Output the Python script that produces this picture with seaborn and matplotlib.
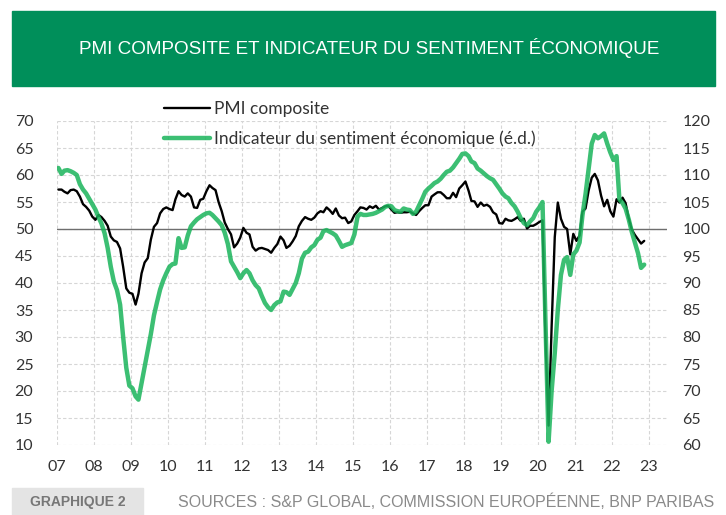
import pandas as pd
import numpy as np
import matplotlib
matplotlib.use("Agg")
import matplotlib.pyplot as plt
from matplotlib.patches import Rectangle
import seaborn as sns

# monthly data, Jan 2007 -> Nov 2022
first_month = "2007-01"

pmi_composite = [
    57.3, 57.3, 56.9, 56.6, 57.2, 57.3, 57.0, 56.0, 54.6, 54.1, 53.4, 52.3,  # 2007
    51.7, 52.6, 52.2, 51.5, 50.6, 48.6, 47.9, 47.6, 46.4, 43.0, 39.0, 38.2,  # 2008
    38.0, 36.0, 38.0, 41.8, 43.8, 44.6, 48.0, 50.4, 51.1, 52.9, 53.7, 54.0,  # 2009
    53.7, 53.5, 55.5, 57.0, 56.3, 56.0, 56.6, 56.0, 54.0, 53.9, 55.4, 55.6,  # 2010
    57.0, 58.1, 57.6, 57.2, 55.0, 53.3, 51.2, 50.0, 49.0, 46.6, 47.3, 48.4,  # 2011
    50.2, 49.3, 49.0, 46.7, 46.0, 46.4, 46.5, 46.3, 46.1, 45.6, 46.5, 47.2,  # 2012
    48.6, 47.9, 46.5, 46.9, 47.7, 48.7, 50.5, 51.5, 52.2, 51.9, 51.7, 52.1,  # 2013
    52.9, 53.3, 53.1, 54.0, 53.5, 52.8, 53.8, 52.5, 52.0, 52.1, 51.1, 51.4,  # 2014
    52.6, 53.3, 54.0, 53.9, 53.6, 54.2, 53.9, 54.3, 53.6, 53.9, 54.2, 54.3,  # 2015
    53.6, 53.0, 53.1, 53.0, 53.1, 53.1, 53.2, 52.9, 52.6, 53.3, 53.9, 54.4,  # 2016
    54.4, 56.0, 56.4, 56.8, 56.8, 56.3, 55.7, 55.7, 56.7, 55.9, 57.5, 58.1,  # 2017
    58.8, 57.1, 55.2, 55.1, 54.1, 54.9, 54.3, 54.5, 54.1, 53.1, 52.7, 51.1,  # 2018
    51.0, 51.9, 51.6, 51.5, 51.8, 52.2, 51.5, 51.9, 50.1, 50.6, 50.6, 50.9,  # 2019
    51.3, 51.6, 29.7, 13.6, 31.9, 48.5, 54.9, 51.9, 50.4, 50.0, 45.3, 49.1,  # 2020
    47.8, 48.8, 53.2, 53.8, 57.1, 59.5, 60.2, 59.0, 56.2, 54.2, 55.4, 53.3,  # 2021
    52.3, 55.5, 54.9, 55.8, 54.8, 52.0, 49.9, 48.9, 48.1, 47.3, 47.8,        # 2022
]

sentiment = [
    111.3, 110.2, 110.8, 110.9, 110.7, 110.4, 110.0, 108.3, 107.3, 106.6, 105.6, 104.6,  # 2007
    103.6, 102.2, 101.0, 99.2, 96.5, 93.0, 90.3, 88.7, 86.0, 80.0, 74.3, 71.0,  # 2008
    70.5, 69.0, 68.4, 71.5, 74.5, 77.5, 80.5, 84.0, 86.5, 88.8, 90.5, 91.8,  # 2009
    93.0, 93.5, 93.6, 98.3, 96.5, 96.6, 98.8, 100.5, 101.2, 101.8, 102.2, 102.6,  # 2010
    102.9, 103.0, 102.6, 102.0, 101.4, 100.7, 99.3, 97.2, 94.0, 93.0, 92.0, 90.9,  # 2011
    91.8, 92.4, 91.8, 90.5, 89.6, 89.0, 87.6, 86.3, 85.5, 85.0, 85.9, 86.4,  # 2012
    86.6, 88.4, 88.3, 87.8, 88.9, 90.0, 91.8, 94.5, 95.6, 95.8, 96.6, 97.0,  # 2013
    98.0, 98.4, 99.6, 99.8, 99.5, 99.2, 98.8, 97.8, 96.7, 97.0, 97.2, 97.4,  # 2014
    99.0, 102.3, 102.8, 102.6, 102.6, 102.7, 102.8, 103.0, 103.3, 103.6, 104.1, 104.3,  # 2015
    104.2, 103.5, 103.3, 103.2, 103.8, 103.6, 103.5, 102.8, 103.2, 104.4, 105.6, 106.9,  # 2016
    107.5, 108.0, 108.5, 108.8, 109.3, 110.0, 110.6, 110.8, 111.4, 112.2, 113.0, 113.9,  # 2017
    114.0, 113.5, 112.5, 112.2, 111.2, 110.8, 110.3, 109.8, 109.4, 109.1, 108.3, 107.5,  # 2018
    106.6, 106.0, 105.7, 104.8, 104.2, 103.2, 102.0, 101.1, 100.7, 101.4, 102.0, 103.2,  # 2019
    104.0, 105.0, 83.0, 60.6, 70.0, 77.0, 85.0, 91.5, 94.3, 94.8, 91.5, 95.3,  # 2020
    96.0, 97.5, 102.5, 106.5, 111.0, 115.8, 117.4, 116.8, 117.2, 117.7, 115.8, 114.2,  # 2021
    112.8, 113.5, 105.5, 104.8, 103.8, 101.8, 99.5, 97.5, 95.5, 92.8, 93.4,  # 2022
]

year_labels = ["07", "08", "09", "10", "11", "12", "13", "14", "15",
               "16", "17", "18", "19", "20", "21", "22", "23"]
left_ticks = [10, 15, 20, 25, 30, 35, 40, 45, 50, 55, 60, 65, 70]
right_ticks = [60, 65, 70, 75, 80, 85, 90, 95, 100, 105, 110, 115, 120]

title = "PMI COMPOSITE ET INDICATEUR DU SENTIMENT ÉCONOMIQUE"
label_pmi = "PMI composite"
label_esi = "Indicateur du sentiment économique (é.d.)"
footer_tag = "GRAPHIQUE 2"
footer_src = "SOURCES : S&P GLOBAL, COMMISSION EUROPÉENNE, BNP PARIBAS"

dates = pd.date_range(first_month, periods=len(pmi_composite), freq="MS") + pd.Timedelta(days=14)
df = pd.DataFrame({"date": dates, "pmi": pmi_composite, "esi": sentiment})

sns.set_style("white")
plt.rcParams["font.family"] = ["Lato", "DejaVu Sans"]
narrow = ["Liberation Sans", "DejaVu Sans"]

GREEN_BANNER = "#008F5A"
GREEN_LINE = "#1AB45B"
TXT = "#333333"

fig = plt.figure(figsize=(7.26, 5.15), dpi=100)
ax = fig.add_axes([57 / 726, 1 - 445 / 515, 610 / 726, 324 / 515])
ax2 = ax.twinx()

sns.lineplot(data=df, x="date", y="pmi", ax=ax, color="black", lw=1.7,
             label=label_pmi, legend=False)
sns.lineplot(data=df, x="date", y="esi", ax=ax2, color=GREEN_LINE, alpha=0.85,
             lw=3.2, label=label_esi, legend=False)

ax.axhline(50, color="#6e6e6e", lw=1.0, zorder=1)

ax.set_xlim(pd.Timestamp("2007-01-01"), pd.Timestamp("2023-06-28"))
ax.set_ylim(10, 70)
ax2.set_ylim(60, 120)
ax.set_xticks([pd.Timestamp(f"20{y}-01-01") for y in year_labels])
ax.set_xticklabels(year_labels)
ax.set_yticks(left_ticks)
ax2.set_yticks(right_ticks)

ax.grid(True, color="#d6d6d6", ls=(0, (3, 2)), lw=0.8)
ax2.grid(False)
ax.set_xlabel("")
ax.set_ylabel("")
ax2.set_ylabel("")
for a in (ax, ax2):
    for s in a.spines.values():
        s.set_visible(False)

ax.tick_params(axis="y", length=0, pad=17, labelsize=11.5, labelcolor=TXT)
ax.tick_params(axis="x", length=0, pad=11, labelsize=11.5, labelcolor=TXT)
ax2.tick_params(axis="y", length=0, pad=11, labelsize=11.5, labelcolor=TXT)

h1, l1 = ax.get_legend_handles_labels()
h2, l2 = ax2.get_legend_handles_labels()
fig.legend(h1 + h2, l1 + l2, loc="upper left",
           bbox_to_anchor=(164 / 726, 1 - 101 / 515), frameon=False,
           fontsize=12.5, handlelength=2.65, handletextpad=0.22,
           labelspacing=0.75, borderpad=0, borderaxespad=0, labelcolor=TXT)

# title banner
fig.add_artist(Rectangle((12 / 726, 1 - 86 / 515), 703 / 726, 75 / 515,
                         transform=fig.transFigure, color=GREEN_BANNER, zorder=0))
fig.text(369 / 726, 1 - 48 / 515, title, color="white", ha="center", va="center",
         fontsize=13.6, family=narrow)

# footer
fig.add_artist(Rectangle((12 / 726, 0), 131 / 726, 27 / 515,
                         transform=fig.transFigure, color="#E4E4E4", zorder=0))
fig.text(78 / 726, 1 - 502 / 515, footer_tag, color="#777777", ha="center",
         va="center", fontsize=10, family=narrow, weight="bold")
fig.text(178 / 726, 1 - 502 / 515, footer_src, color="#8a8a8a", ha="left",
         va="center", fontsize=11.5, family=narrow)

fig.savefig("out.png", dpi=100)
